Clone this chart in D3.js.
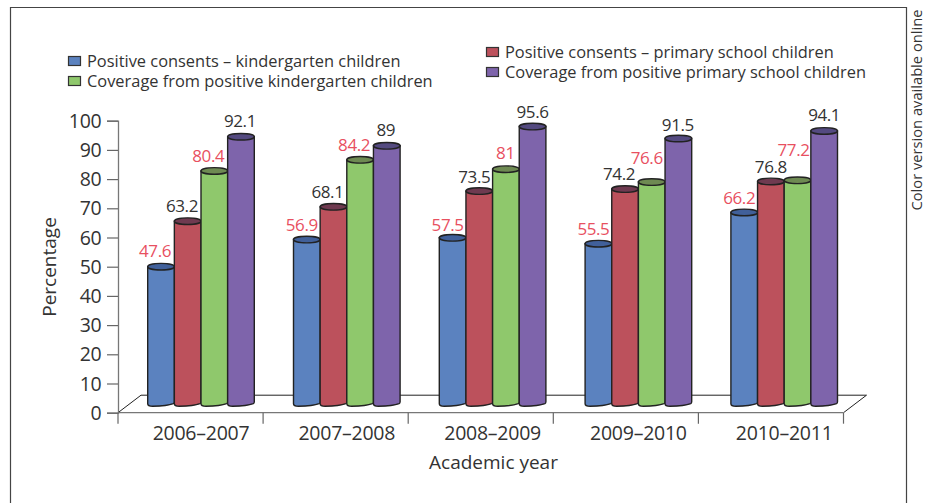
<!DOCTYPE html>
<html>
<head>
<meta charset="utf-8">
<script src="https://d3js.org/d3.v7.min.js"></script>
<style>
  html, body { margin: 0; padding: 0; background: #fff; }
  text { font-family: "Open Sans", "Noto Sans", sans-serif; fill: #333; }
</style>
</head>
<body>
<svg id="chart"></svg>
<script>
const width = 934;
const height = 503;

// Values
const years = ["2006–2007", "2007–2008", "2008–2009", "2009–2010", "2010–2011"];
const seriesNames = [
  "Positive consents – kindergarten children",
  "Positive consents – primary school children",
  "Coverage from positive kindergarten children",
  "Coverage from positive primary school children",
];
const kindergartenConsents = [47.6, 56.9, 57.5, 55.5, 66.2];
const primaryConsents = [63.2, 68.1, 73.5, 74.2, 76.8];
const kindergartenCoverage = [80.4, 84.2, 81, 76.6, 77.2];
const primaryCoverage = [92.1, 89, 95.6, 91.5, 94.1];
const yTicks = [0, 10, 20, 30, 40, 50, 60, 70, 80, 90, 100];

const seriesValues = [kindergartenConsents, primaryConsents, kindergartenCoverage, primaryCoverage];
const fills = ["#5b82bf", "#bc515c", "#8fc86c", "#7e64ab"];
const topFills = ["#41609a", "#6f3a50", "#6e8a52", "#544a80"];
const red = "#e8505f";

// The labels were placed by hand in the original, [dx, dy] per year and series
const labelNudge = [
  [[-6, -10], [-5.7, -9], [-6, -9], [-1, -10]],
  [[-5, -9], [-6, -9], [-6, -9], [-1, -10]],
  [[-5, -7], [-5, -8], [-0.5, -10], [0, -9]],
  [[-5, -9], [-6, -9], [-5, -18], [-0.5, -8]],
  [[-5, -8], [0, -8], [-4, -24], [0, -10]],
];

const svg = d3.select("#chart").attr("width", width).attr("height", height);

// Frame
svg.append("path")
  .attr("d", "M10.5,503V7.5H906.5V503")
  .attr("fill", "none")
  .attr("stroke", "#444")
  .attr("stroke-width", 1.2);

svg.append("text")
  .attr("transform", "translate(922,210.5) rotate(-90)")
  .attr("font-size", 14.7)
  .text("Color version available online");

// Scales, the bars stand further back on the floor than the axis line
const x = d3.scaleBand().domain(years).range([118, 843.5]);
const xBar = d3.scaleBand().domain(years).range([128.1, 857.1]);
const y = d3.scaleLinear().domain([0, 100]).range([412.7, 120.7]);

// 3D floor depth
const depthX = 23;
const depthY = -17.5;
const barShiftY = -7;
const barStep = 26.65;
const rx = barStep / 2;
const ry = 3.3;
const groupLeft = (yr) => xBar(yr) + xBar.bandwidth() / 2 - 2 * barStep;

// Floor
const y0 = y(0);
const xEnd = x.range()[1];
const xStart = x.range()[0];
svg.append("path")
  .attr("d", `M${xStart},${y0}L${xStart + depthX},${y0 + depthY}H${xEnd + depthX}L${xEnd},${y0}`)
  .attr("fill", "none")
  .attr("stroke", "#222")
  .attr("stroke-width", 1);

// Axes
const yAxis = d3.axisLeft(y).tickValues(yTicks).tickSize(11).tickPadding(5.5);
const gy = svg.append("g").attr("transform", `translate(${xStart},0)`).call(yAxis);
const xAxis = d3.axisBottom(xBar).tickSize(0).tickPadding(10);
const gx = svg.append("g").attr("transform", `translate(0,${y0})`).call(xAxis);
gx.selectAll(".tick line").remove();
gx.select(".domain").attr("d", `M${xStart},0H${xEnd}`);
[...years.map((d) => x(d)), xEnd].forEach((tx) => {
  gx.append("line").attr("x1", tx).attr("x2", tx).attr("y1", 0).attr("y2", 11).attr("stroke", "#666").attr("stroke-width", 1.2);
});
[gy, gx].forEach((g) => {
  g.select(".domain").attr("stroke", "#777").attr("stroke-width", 1.3);
  g.selectAll("text")
    .attr("fill", "#333")
    .attr("font-family", '"Open Sans", sans-serif')
    .attr("font-size", 19.5)
    .attr("letter-spacing", -0.25);
});
gy.selectAll(".tick line").attr("stroke", "#666").attr("stroke-width", 1.2);
gy.selectAll(".tick text").attr("dy", "0.34em");
gx.selectAll(".tick text").attr("dy", "0.9em");

svg.append("text")
  .attr("transform", "translate(56,267) rotate(-90)")
  .attr("text-anchor", "middle")
  .attr("font-size", 19)
  .text("Percentage");
svg.append("text")
  .attr("x", 493.5)
  .attr("y", 469)
  .attr("text-anchor", "middle")
  .attr("font-size", 19)
  .text("Academic year");

// Cylinders
const rows = [];
years.forEach((yr, i) => {
  seriesValues.forEach((vals, s) => {
    rows.push({ yr, i, s, v: vals[i] });
  });
});
const cx = (d) => groupLeft(d.yr) + barStep * d.s + rx;
const topY = (d) => y(d.v) + barShiftY;
const baseY = y(0) + barShiftY;

const bars = svg.append("g").selectAll("g").data(rows).join("g");
bars.append("path")
  .attr("d", (d) => {
    const l = cx(d) - rx;
    const r = cx(d) + rx;
    return `M${l},${topY(d)}V${baseY - 2}Q${l},${baseY + 0.5} ${l + 5},${baseY + 0.5}` +
      `C${l + 14},${baseY + 0.5} ${r - 6},${baseY} ${r - 1},${baseY - 2}Q${r},${baseY - 2.5} ${r},${baseY - 4}V${topY(d)}Z`;
  })
  .attr("fill", (d) => fills[d.s])
  .attr("stroke", "#222")
  .attr("stroke-width", 1.4);
bars.append("ellipse")
  .attr("cx", cx)
  .attr("cy", topY)
  .attr("rx", rx)
  .attr("ry", ry)
  .attr("fill", (d) => topFills[d.s])
  .attr("stroke", "#222")
  .attr("stroke-width", 1.4);

// Value labels, the kindergarten series are pink in the original
svg.append("g").selectAll("text").data(rows).join("text")
  .attr("x", (d) => cx(d) + labelNudge[d.i][d.s][0])
  .attr("y", (d) => topY(d) + labelNudge[d.i][d.s][1])
  .attr("text-anchor", "middle")
  .attr("font-size", 17)
  .attr("letter-spacing", -0.4)
  .style("fill", (d) => (d.s % 2 === 0 ? red : "#333"))
  .text((d) => d.v);

// Legend
const legendPos = [[68, 67], [486, 58], [68, 87], [486, 78]];
const legend = svg.append("g").selectAll("g").data(seriesNames).join("g")
  .attr("transform", (d, i) => `translate(${legendPos[i][0]},${legendPos[i][1]})`);
legend.append("rect")
  .attr("x", 0.5)
  .attr("y", -10.5)
  .attr("width", 12)
  .attr("height", 9)
  .attr("fill", (d, i) => fills[i])
  .attr("stroke", "#333")
  .attr("stroke-width", 1.2);
legend.append("text")
  .attr("x", 19)
  .attr("font-size", 16.4)
  .text((d) => d);
</script>
</body>
</html>
